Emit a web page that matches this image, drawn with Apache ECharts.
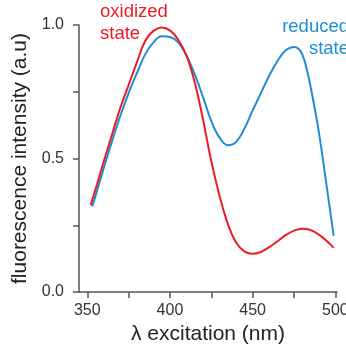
<!DOCTYPE html>
<html>
<head>
<meta charset="utf-8">
<script src="https://cdn.jsdelivr.net/npm/echarts@6/dist/echarts.min.js"></script>
<style>
  html, body { margin: 0; padding: 0; background: #fff; }
  #chart { width: 346px; height: 352px; }
</style>
</head>
<body>
<div id="chart"></div>
<script>
// wavelengths (nm) and normalized intensities
const oxidizedWl = [352, 355, 360, 365, 370, 375, 380, 385, 390, 395, 400, 405, 410, 415, 420, 425, 430, 435, 440, 445, 450, 455, 460, 465, 470, 475, 480, 485, 490, 495, 499];
const oxidizedVals = [0.325, 0.385, 0.49, 0.59, 0.69, 0.775, 0.86, 0.94, 0.978, 0.991, 0.98, 0.945, 0.885, 0.785, 0.645, 0.49, 0.36, 0.255, 0.185, 0.152, 0.143, 0.15, 0.168, 0.19, 0.213, 0.23, 0.237, 0.232, 0.215, 0.19, 0.165];
const reducedWl = [353, 355, 360, 365, 370, 375, 380, 385, 390, 395, 400, 405, 410, 415, 420, 425, 430, 435, 440, 445, 450, 455, 460, 465, 470, 475, 477.5, 480, 482.5, 485, 490, 495, 499];
const reducedVals = [0.32, 0.36, 0.465, 0.565, 0.66, 0.745, 0.82, 0.89, 0.935, 0.958, 0.955, 0.935, 0.885, 0.815, 0.73, 0.64, 0.578, 0.55, 0.562, 0.612, 0.68, 0.745, 0.81, 0.865, 0.905, 0.918, 0.912, 0.89, 0.84, 0.77, 0.6, 0.385, 0.21];
const xTicks = [350, 375, 400, 425, 450, 475, 500];
const xLabels = [350, 400, 450, 500];
const yLabels = [0, 0.5, 1];

const RED = "#ec1c24";
const BLUE = "#1b8fd2";
const FONT = "Liberation Sans, Arial, sans-serif";
const AXIS = "#555";

const chart = echarts.init(document.getElementById("chart"), null, { renderer: "canvas" });

chart.setOption({
  animation: false,
  grid: { left: 79, top: 25, width: 258, bottom: 60, outerBoundsMode: "none" },
  xAxis: {
    type: "value",
    min: 345,
    max: 501,
    name: "λ excitation (nm)",
    nameLocation: "middle",
    nameGap: 32,
    nameTextStyle: { color: "#222", fontSize: 21, fontFamily: FONT },
    axisLine: { onZero: false, lineStyle: { color: AXIS, width: 1.5 } },
    axisTick: { show: true, length: 6, customValues: xTicks, lineStyle: { color: AXIS, width: 1.5 } },
    axisLabel: { customValues: xLabels, margin: 11, color: "#333", fontSize: 16, fontFamily: FONT },
    splitLine: { show: false }
  },
  yAxis: {
    type: "value",
    min: 0,
    max: 1,
    interval: 0.25,
    name: "fluorescence intensity (a.u)",
    nameLocation: "middle",
    nameGap: 47,
    nameTextStyle: { color: "#222", fontSize: 21, fontFamily: FONT },
    axisLine: { show: true, lineStyle: { color: AXIS, width: 1.5 } },
    axisTick: { show: true, length: 6, lineStyle: { color: AXIS, width: 1.5 } },
    axisLabel: {
      customValues: yLabels,
      margin: 15,
      color: "#333",
      fontSize: 16,
      fontFamily: FONT,
      formatter: (v) => Number(v).toFixed(1)
    },
    splitLine: { show: false }
  },
  series: [
    {
      name: "reduced state",
      type: "line",
      smooth: 0.4,
      symbol: "none",
      lineStyle: { color: BLUE, width: 2 },
      data: reducedWl.map((w, i) => [w, reducedVals[i]])
    },
    {
      name: "oxidized state",
      type: "line",
      smooth: 0.4,
      symbol: "none",
      lineStyle: { color: RED, width: 2 },
      data: oxidizedWl.map((w, i) => [w, oxidizedVals[i]])
    }
  ],
  graphic: [
    {
      type: "text",
      x: 100,
      y: 1,
      style: { text: "oxidized\nstate", fill: RED, font: "18.5px " + FONT, lineHeight: 22, align: "left", verticalAlign: "top" }
    },
    {
      type: "text",
      x: 349,
      y: 16,
      style: { text: "reduced\nstate", fill: BLUE, font: "18.5px " + FONT, lineHeight: 22, align: "right", verticalAlign: "top" }
    }
  ]
});
</script>
</body>
</html>
